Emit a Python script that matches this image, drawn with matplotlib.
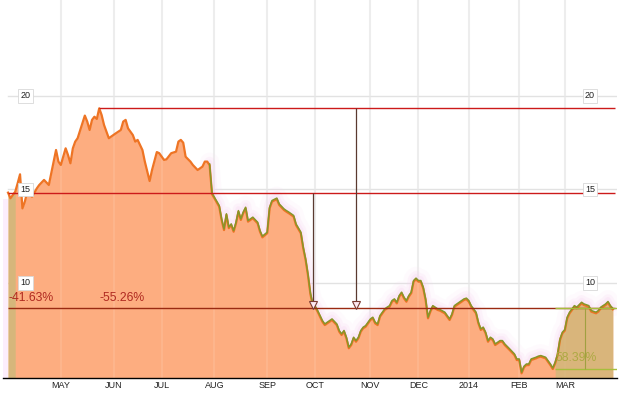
import numpy as np
import matplotlib.pyplot as plt
from matplotlib.transforms import blended_transform_factory

# trading-day index (0 = 1 Apr 2013) and closing price
days = [0, 1, 3, 4, 5, 6, 7, 8, 9, 10, 12, 13, 15, 17, 19, 20, 21, 22, 23, 24,
        25, 26, 27, 28, 29, 31, 32, 33, 34, 35, 36, 37, 38, 39, 40, 42, 45, 47, 48, 49,
        50, 51, 52, 53, 54, 56, 57, 59, 60, 62, 63, 65, 66, 68, 70, 71, 72, 73, 74, 76,
        77, 79, 81, 82, 83, 84, 85, 86, 88, 89, 90, 91, 92, 93, 94, 95, 96, 97, 98, 99,
        100, 101, 102, 104, 105, 106, 108, 109, 110, 112, 113, 115, 116, 117, 119, 120, 122, 123, 124, 125,
        126, 127, 128, 129, 131, 132, 134, 135, 137, 138, 139, 140, 141, 142, 143, 144, 145, 146, 147, 148,
        149, 151, 152, 153, 154, 155, 156, 157, 158, 159, 160, 161, 162, 163, 164, 165, 166, 167, 168, 169,
        170, 171, 172, 173, 174, 175, 176, 177, 179, 180, 182, 183, 184, 185, 186, 188, 190, 191, 192, 193,
        195, 196, 197, 198, 199, 200, 201, 202, 203, 205, 206, 207, 209, 211, 212, 213, 214, 215, 216, 217,
        218, 220, 221, 222, 224, 225, 226, 227, 228, 229, 230, 231, 232, 233, 234, 235, 236, 237, 239, 240,
        242, 243, 245, 246, 247, 249, 250, 251, 252]
prices = [14.83, 14.53, 14.88, 15.33, 15.81, 13.99, 14.35, 14.88, 14.71, 14.61, 15.06, 15.24, 15.51, 15.24, 16.49, 17.11, 16.49, 16.31, 16.75, 17.20,
          16.84, 16.40, 17.20, 17.56, 17.74, 18.54, 18.95, 18.63, 18.18, 18.72, 18.89, 18.77, 19.34, 18.98, 18.45, 17.74, 18.01, 18.18, 18.63, 18.72,
          18.27, 18.09, 17.91, 17.56, 17.65, 17.11, 16.49, 15.45, 16.04, 17.00, 16.94, 16.58, 16.61, 16.94, 17.02, 17.56, 17.65, 17.50, 16.75, 16.49,
          16.31, 16.04, 16.22, 16.49, 16.49, 16.30, 14.75, 14.53, 14.08, 13.37, 12.83, 13.64, 12.93, 13.10, 12.74, 13.19, 13.81, 13.37, 13.73, 13.99,
          13.28, 13.37, 13.46, 13.19, 12.74, 12.44, 12.66, 13.99, 14.35, 14.48, 14.17, 13.90, 13.81, 13.73, 13.55, 13.10, 12.66, 11.86, 11.23, 10.40,
          9.40, 8.80, 8.70, 8.47, 7.93, 7.75, 7.93, 8.02, 7.75, 7.40, 7.22, 7.40, 7.04, 6.51, 6.68, 7.04, 6.86, 7.04, 7.40, 7.58,
          7.66, 8.02, 8.11, 7.84, 7.75, 8.20, 8.38, 8.56, 8.65, 8.73, 9.00, 9.09, 8.91, 9.27, 9.45, 9.18, 9.00, 9.27, 9.45, 10.07,
          10.20, 10.07, 10.07, 9.72, 9.09, 8.11, 8.47, 8.73, 8.56, 8.52, 8.38, 8.20, 8.02, 8.29, 8.73, 8.91, 9.09, 9.13, 9.00, 8.73,
          8.38, 7.84, 7.49, 7.58, 7.31, 6.86, 7.04, 6.95, 6.68, 6.86, 6.86, 6.68, 6.42, 6.15, 5.88, 5.88, 5.17, 5.49, 5.61, 5.61,
          5.88, 5.97, 6.03, 6.06, 5.97, 5.79, 5.61, 5.40, 5.71, 6.15, 6.95, 7.31, 7.45, 8.11, 8.38, 8.56, 8.73, 8.65, 8.91, 8.82,
          8.73, 8.47, 8.38, 8.47, 8.65, 8.82, 8.95, 8.73, 8.59]

month_days = [22, 44, 64, 86, 108, 128, 151, 171, 192, 213, 232]
month_labels = ["MAY", "JUN", "JUL", "AUG", "SEP", "OCT", "NOV", "DEC", "2014", "FEB", "MAR"]
y_ticks = [10, 15, 20]

start_day, start_price = 0, 14.83
peak_day, peak_price = 38, 19.34
trough_level = 8.65
low_day, low_level = 228, 5.40
arrow_days = [127, 145]
drop_labels = ["-41.63%", "-55.26%"]
rise_label = "58.39%"

plt.rcParams['font.family'] = ['Liberation Sans', 'DejaVu Sans']

fig = plt.figure(figsize=(6.27, 3.94), dpi=100)
ax = fig.add_axes([3 / 627, 16 / 394, 614 / 627, 378 / 394])
x0, x1 = -2.1, 253.75
y0, y1 = 4.92, 25.13
ax.set_xlim(x0, x1)
ax.set_ylim(y0, y1)

x = np.array(days)
y = np.array(prices)

# grille
for m in month_days:
    ax.axvline(m, color='#ECECEC', lw=1.5, zorder=0)
for t in y_ticks:
    ax.axhline(t, xmin=0.008, color='#E2E2E2', lw=1, zorder=0)

# bande rose a gauche
ax.fill_between([x0, 0], y0, 14.5, color='#FCEEFC', lw=0, zorder=0.5)

# halo rose autour de la courbe
late = x >= 84
for lw, a in [(14, 0.10), (8, 0.18), (4, 0.25)]:
    ax.plot(x[late], y[late] + 0.15, color='#F8D0F0', lw=lw, alpha=a,
            solid_capstyle='round', zorder=1)

# aire
ax.fill_between(x, y0, y, color='#FDAD80', lw=0, zorder=2)
for m in month_days:
    ax.axvline(m, color='white', lw=1.5, alpha=0.1, zorder=2.2)

left = x <= 3
right = x >= low_day
ax.fill_between(x[left], y0, y[left], color='#CDB97A', alpha=0.8, lw=0, zorder=2.5)
ax.fill_between(x[right], y0, y[right], color='#CDB97A', alpha=0.75, lw=0, zorder=2.5)

# courbes
ax.plot(x, y, color='#EE7424', lw=1.6, zorder=4)
ax.plot(x[late], y[late] + 0.06, color='#86962A', lw=1.1, zorder=5)

# niveaux
ax.hlines(peak_price, peak_day, 253, color='#CC1A1A', lw=1, zorder=6)
ax.hlines(start_price, start_day, 253, color='#CC1A1A', lw=1, zorder=6)
ax.hlines(trough_level, start_day, 253, color='#9A2A12', lw=1, zorder=6)

# fleches de baisse
ax.vlines(arrow_days[0], trough_level, start_price, color='#5A3A30', lw=0.9, zorder=6)
ax.vlines(arrow_days[1], trough_level, peak_price, color='#5A3A30', lw=0.9, zorder=6)
ax.plot(arrow_days, [trough_level + 0.17] * 2, marker='v', ms=6, ls='none',
        mfc='#FCE8F0', mec='#7A3A30', mew=0.8, zorder=7)

# hausse depuis le plus bas
ax.hlines([trough_level, low_level], low_day, x1, color='#A6BE3C', lw=1, zorder=6)
ax.vlines((low_day + x1) / 2 - 0.5, low_level, trough_level, color='#A0A040', lw=0.8, zorder=6)

ax.text(start_day + 0.4, 9.2, drop_labels[0], color='#B02A20', fontsize=8.8,
        ha='left', va='center', zorder=8)
ax.text(peak_day + 0.3, 9.2, drop_labels[1], color='#B02A20', fontsize=8.8,
        ha='left', va='center', zorder=8)
ax.text(low_day, 6.0, rise_label, color='#A8A83C', fontsize=8.8, alpha=0.9,
        ha='left', va='center', zorder=8)

# etiquettes de l'axe y
trans = blended_transform_factory(ax.transAxes, ax.transData)
for t in y_ticks:
    for xa in (0.0366, 0.956):
        ax.text(xa, t, str(t), transform=trans, ha='center', va='center',
                fontsize=6.5, color='#222222', zorder=9,
                bbox=dict(boxstyle='square,pad=0.25', fc='white', ec='#D8D8D8', lw=0.6))

ax.set_xticks(month_days, month_labels)
ax.set_yticks([])
ax.tick_params(axis='x', length=0, labelsize=6.5, pad=2.5, colors='#222222')
for s in ['top', 'left', 'right']:
    ax.spines[s].set_visible(False)
ax.spines['bottom'].set_color('black')
ax.spines['bottom'].set_linewidth(1)
ax.spines['bottom'].set_zorder(10)

fig.savefig("out.png", dpi=100)
